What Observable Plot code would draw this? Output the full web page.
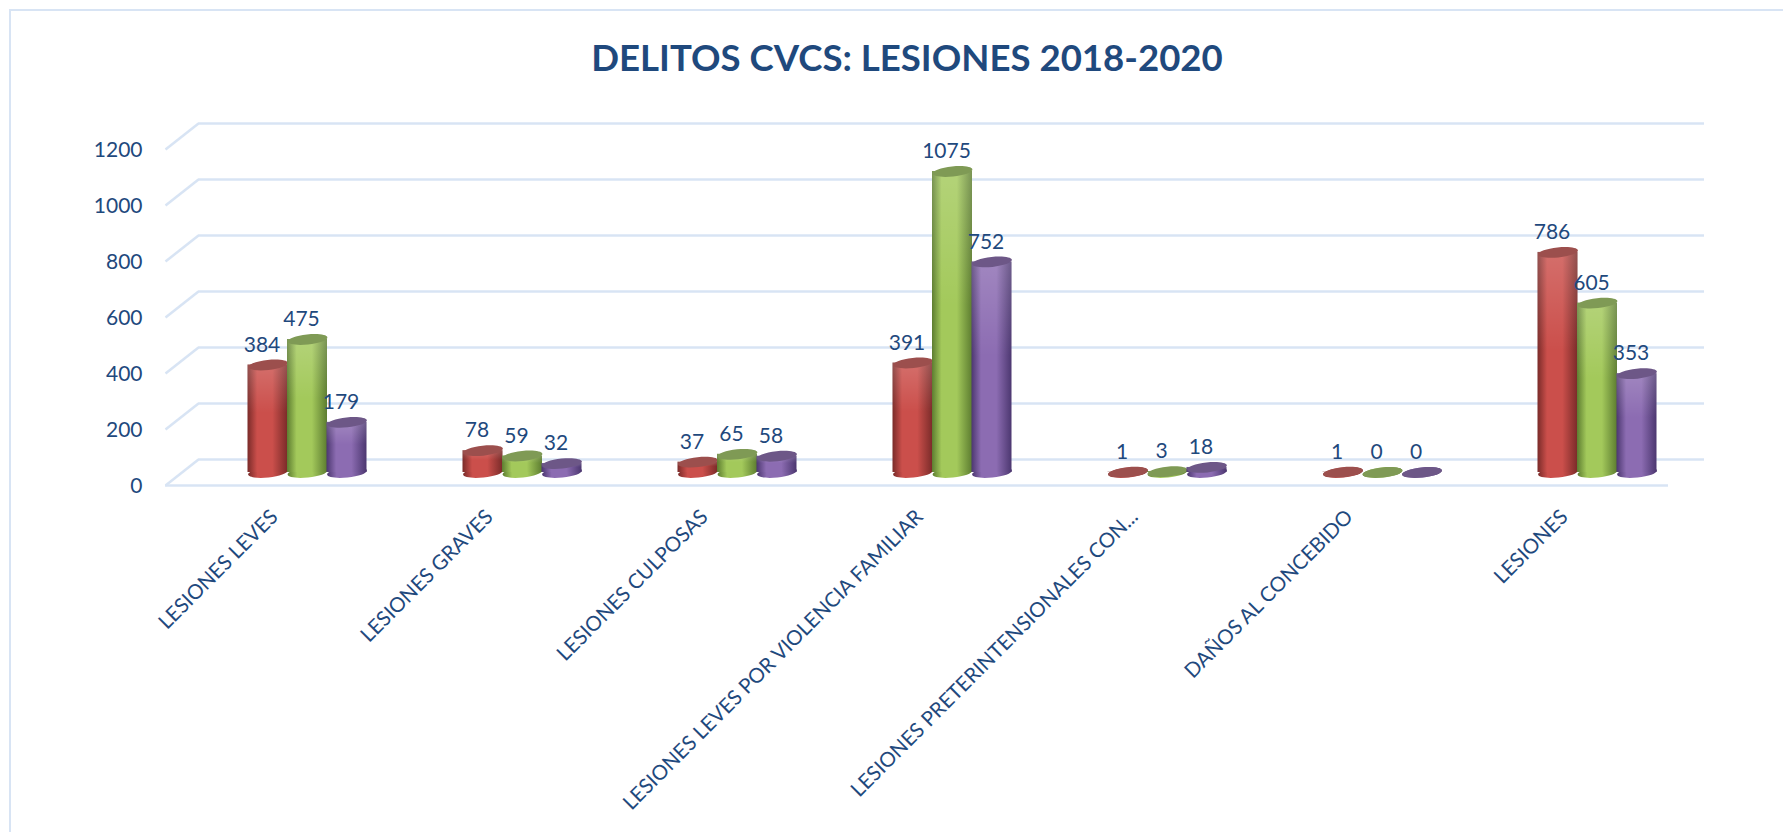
<!DOCTYPE html>
<html><head><meta charset="utf-8">
<script src="https://cdn.jsdelivr.net/npm/d3@7"></script>
<script src="https://cdn.jsdelivr.net/npm/@observablehq/plot@0.6"></script>
<style>
html,body{margin:0;padding:0;background:#fff;overflow:hidden}
#frame{position:absolute;left:9px;top:9px;right:0;bottom:0;border-left:2px solid #d8e4f4;border-top:2px solid #d8e4f4;pointer-events:none}
#chart{position:absolute;left:0;top:0}
</style></head><body>
<div id="chart"></div><div id="frame"></div>
<script>
const categories = ["LESIONES LEVES","LESIONES GRAVES","LESIONES CULPOSAS","LESIONES LEVES POR VIOLENCIA FAMILIAR","LESIONES PRETERINTENSIONALES CON...","DAÑOS AL CONCEBIDO","LESIONES"];
const values2018 = [384,78,37,391,1,1,786];
const values2019 = [475,59,65,1075,3,0,605];
const values2020 = [179,32,58,752,18,0,353];
const yTicks = [0,200,400,600,800,1000,1200];
const title = "DELITOS CVCS: LESIONES 2018-2020";

const INK = "#1f497d", GRID = "#d8e4f4", FONT = "Lato, Carlito, sans-serif";
const series = [
  {id:"r", values:values2018, dx:-39.5, edge:"#7a2b29", mid:"#cb4f4b", cap:"#9c4f4d"},
  {id:"g", values:values2019, dx:0,     edge:"#5d7d30", mid:"#a3c95b", cap:"#7f9a55"},
  {id:"p", values:values2020, dx:39.5,  edge:"#4c3770", mid:"#8c6cb2", cap:"#6d5787"}
];

// tilted ellipse symbol for cylinder caps
function ellipse(rx, ry, deg){
  const t = deg*Math.PI/180, c = Math.cos(t), s = Math.sin(t), k = 0.5523;
  const P = (x,y)=>[x*c-y*s, x*s+y*c];
  return {draw(ctx){
    ctx.moveTo(...P(rx,0));
    ctx.bezierCurveTo(...P(rx,k*ry),...P(k*rx,ry),...P(0,ry));
    ctx.bezierCurveTo(...P(-k*rx,ry),...P(-rx,k*ry),...P(-rx,0));
    ctx.bezierCurveTo(...P(-rx,-k*ry),...P(-k*rx,-ry),...P(0,-ry));
    ctx.bezierCurveTo(...P(k*rx,-ry),...P(rx,-k*ry),...P(rx,0));
    ctx.closePath();
  }};
}
const cap = ellipse(20, 5, -6);
const sideRun = {draw(ctx){ ctx.moveTo(0,13); ctx.lineTo(33,-13); }};

const gradients = () => {
  const defs = d3.create("svg:defs");
  for (const s of series) {
    const g = defs.append("linearGradient").attr("id","side-"+s.id);
    [[0,s.edge],[.24,s.mid],[.62,s.mid],[1,s.edge]].forEach(([o,c])=>g.append("stop").attr("offset",o).attr("stop-color",c));
  }
  const v = defs.append("linearGradient").attr("id","shade").attr("x1",0).attr("x2",0).attr("y1",0).attr("y2",1);
  [[0,"#fff",.18],[.45,"#fff",0],[1,"#fff",0]].forEach(([o,c,a])=>v.append("stop").attr("offset",o).attr("stop-color",c).attr("stop-opacity",a));
  return defs.node();
};

const cylinders = series.flatMap(s => {
  const rows = categories.map((c,i)=>({category:c, value:s.values[i]}));
  return [
    Plot.dot(rows,{x:"category", y:()=>0, symbol:cap, dx:s.dx, fill:`url(#side-${s.id})`, stroke:"none"}),
    Plot.barY(rows,{x:"category", y:"value", dx:s.dx, fill:`url(#side-${s.id})`}),
    Plot.barY(rows,{x:"category", y:"value", dx:s.dx, fill:"url(#shade)"}),
    Plot.dot(rows,{x:"category", y:"value", symbol:cap, dx:s.dx, fill:s.cap, stroke:"none"})
  ];
});
const labels = series.map(s => Plot.text(categories.map((c,i)=>({category:c, value:s.values[i]})),{
  x:"category", y:"value", text:d=>String(d.value), dx:s.dx-6, dy:-20, fill:INK, fontSize:21, fontFamily:FONT
}));

const chart = Plot.plot({
  width:1783, height:832,
  marginLeft:165, marginRight:79, marginTop:20, marginBottom:347,
  style:{background:"transparent", overflow:"visible"},
  x:{type:"band", domain:categories, range:[197.5,1706.5], paddingInner:.8145, paddingOuter:.40725, label:null},
  y:{domain:[0,1200], range:[472,136], label:null},
  marks:[
    gradients,
    Plot.ruleY(yTicks,{y:d=>d, dy:-13, insetLeft:33, stroke:GRID, strokeWidth:2.5}),
    Plot.dot(yTicks,{y:d=>d, frameAnchor:"left", symbol:sideRun, fill:"none", stroke:GRID, strokeWidth:2.5}),
    Plot.ruleY([0],{dy:13, insetRight:36, stroke:GRID, strokeWidth:2.5}),
    ...cylinders,
    ...labels,
    Plot.axisY({ticks:yTicks, tickSize:0, tickPadding:23, dy:14, label:null, tickFormat:d=>String(d), fill:INK, fontSize:21, fontFamily:FONT}),
    Plot.axisX({tickRotate:-45, tickSize:0, tickPadding:28, dx:-33, label:null, fill:INK, fontSize:20.5, fontFamily:FONT, lineWidth:Infinity, textOverflow:null}),
    Plot.text([title],{text:d=>d, frameAnchor:"top", dx:-28, dy:24, fill:INK, fontSize:36.6, fontWeight:700, fontFamily:FONT})
  ]
});
document.getElementById("chart").append(chart);
</script>
</body></html>
